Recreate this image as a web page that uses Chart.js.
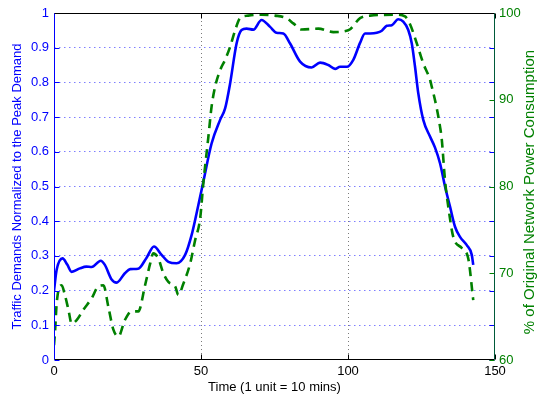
<!DOCTYPE html>
<html><head><meta charset="utf-8">
<script src="https://cdn.jsdelivr.net/npm/chart.js@4/dist/chart.umd.min.js"></script>
<style>html,body{margin:0;padding:0;background:#fff;} #wrap{width:537px;height:398px;}</style>
</head><body><div id="wrap"><canvas id="c" width="537" height="398"></canvas></div>
<script>
// Traffic demand (left axis, normalized)
const demandTime = [0,0.9,2.9,4.5,6,8.8,11,12.8,15.9,17.3,19.6,21.3,24.1,25.9,28.6,31.5,34,36.6,38.9,41.7,44.6,46.8,48.5,50.7,53.6,56.5,58.2,59.9,62.1,63.8,65.5,67.8,70.6,73.5,75.7,78,80.3,83.7,87.6,90.5,93.3,95.6,97.3,99.6,101.8,104.1,105.8,107.5,109.8,111.5,113.2,114.9,117.1,118.8,120.5,121.7,122.8,123.9,125.6,127.9,129.6,131.3,133,134.7,136.4,138.1,140.4,142.1,142.6];
const demand = [0.20,0.26,0.293,0.275,0.254,0.264,0.269,0.268,0.286,0.274,0.232,0.223,0.25,0.262,0.263,0.295,0.327,0.303,0.283,0.279,0.303,0.36,0.423,0.51,0.624,0.692,0.725,0.797,0.912,0.951,0.955,0.952,0.98,0.96,0.943,0.941,0.912,0.86,0.843,0.857,0.85,0.839,0.845,0.845,0.865,0.914,0.941,0.941,0.943,0.949,0.963,0.965,0.982,0.975,0.951,0.912,0.845,0.769,0.692,0.644,0.612,0.567,0.5,0.442,0.384,0.355,0.331,0.303,0.274];
// Power consumption (right axis, %)
const powerTime = [0,0.4,0.9,2.6,3.7,4.9,6,7.7,10,12.8,15.1,16.8,18.5,20.2,21.9,24.1,26.4,28.7,30.9,32.7,33.8,35.5,37.2,38.9,41.2,42.3,44,46.3,48,49.7,50.8,52.5,53.6,54.8,56.5,58.2,59.9,61.6,63.3,66.1,70.6,75.2,79.1,81.4,84.2,89.9,95,100.1,104.1,107.5,116.6,119.4,121.1,123.4,125.6,127.9,128.5,130.2,131.3,131.9,133,134.1,135.8,138.7,140.9,142.6];
const power = [61.7,63.5,66.5,68.6,67.5,65.8,64.2,64.6,65.8,67.1,68.5,68.6,66.1,63.5,62.7,64.6,65.6,65.6,68.5,71.1,72.3,71.7,70,69,68.5,67.5,68.8,71.1,73.8,76.3,80.4,85.7,89.2,91.5,93.4,94.6,96.1,98,99.4,99.7,99.8,99.7,99.4,98.8,98.1,98.2,97.8,98,99.4,99.7,99.8,99.6,98.7,96.5,94.2,92.3,91.5,89,86.9,85.4,80.7,77.7,74.2,72.9,71.7,66.9];
const xTicks = [0,50,100,150];
const leftTicks = [0,0.1,0.2,0.3,0.4,0.5,0.6,0.7,0.8,0.9,1];
const rightTicks = [60,70,80,90,100];

const BLUE = '#0000ff', GREEN = '#008000';
const FONT = {family: '"Liberation Sans", Arial, sans-serif', size: 13};

const framePlugin = {
  id: 'frame',
  afterDatasetsDraw(chart) {
    const {ctx, chartArea: a, scales} = chart;
    const L = a.left + 0.5, R = a.right - 0.5, T = a.top + 0.5, B = a.bottom - 0.5;
    ctx.save();
    ctx.lineWidth = 1;
    ctx.strokeStyle = BLUE;
    ctx.beginPath();
    leftTicks.forEach(v => {
      const y = Math.round(scales.y.getPixelForValue(v)) + 0.5;
      ctx.moveTo(L, y); ctx.lineTo(L + 5, y);
      ctx.moveTo(R, y); ctx.lineTo(R - 5, y);
    });
    ctx.stroke();
    ctx.strokeStyle = GREEN;
    ctx.beginPath();
    rightTicks.forEach(v => {
      const y = Math.round(scales.y2.getPixelForValue(v)) + 0.5;
      ctx.moveTo(R, y); ctx.lineTo(R - 5, y);
    });
    ctx.stroke();
    ctx.strokeStyle = '#000';
    ctx.beginPath();
    xTicks.forEach(v => {
      const x = Math.round(scales.x.getPixelForValue(v)) + 0.5;
      ctx.moveTo(x, B); ctx.lineTo(x, B - 5);
      ctx.moveTo(x, T); ctx.lineTo(x, T + 5);
    });
    ctx.stroke();
    ctx.strokeStyle = '#000';
    ctx.beginPath(); ctx.moveTo(L, T); ctx.lineTo(R, T); ctx.moveTo(L, B); ctx.lineTo(R, B); ctx.stroke();
    ctx.strokeStyle = BLUE;
    ctx.beginPath(); ctx.moveTo(L, T); ctx.lineTo(L, B); ctx.stroke();
    ctx.strokeStyle = '#005a3a';
    ctx.beginPath(); ctx.moveTo(R, T); ctx.lineTo(R, B); ctx.stroke();
    ctx.fillStyle = GREEN;
    ctx.font = '15px "Liberation Sans", Arial, sans-serif';
    ctx.textAlign = 'center';
    ctx.textBaseline = 'middle';
    ctx.translate(530, 192);
    ctx.rotate(-Math.PI / 2);
    ctx.fillText('% of Original Network Power Consumption', 0, 0);
    ctx.restore();
  }
};

new Chart(document.getElementById('c'), {
  type: 'line',
  data: {
    datasets: [
      {
        label: 'Traffic demand',
        data: demandTime.map((t, i) => ({x: t, y: demand[i]})),
        yAxisID: 'y',
        borderColor: BLUE,
        borderWidth: 2.6,
        pointRadius: 0,
        fill: false,
        cubicInterpolationMode: 'monotone',
        order: 2
      },
      {
        label: 'Power',
        data: powerTime.map((t, i) => ({x: t, y: power[i]})),
        yAxisID: 'y2',
        borderColor: GREEN,
        borderWidth: 2.6,
        borderDash: [9, 6],
        borderCapStyle: 'butt',
        pointRadius: 0,
        fill: false,
        cubicInterpolationMode: 'monotone',
        order: 1
      }
    ]
  },
  options: {
    responsive: false,
    animation: false,
    devicePixelRatio: 1,
    layout: {padding: {top: 13, left: 0, right: 0, bottom: 0}},
    plugins: {legend: {display: false}, tooltip: {enabled: false}},
    scales: {
      x: {
        type: 'linear', min: 0, max: 150,
        afterBuildTicks: s => { s.ticks = xTicks.map(v => ({value: v})); },
        afterFit: s => { s.height = 38; },
        ticks: {color: '#000', font: FONT, padding: 4, maxRotation: 0},
        grid: {
          drawTicks: false,
          color: c => (c.tick && (c.tick.value === 50 || c.tick.value === 100)) ? '#7a7a7a' : 'rgba(0,0,0,0)',
          lineWidth: 1
        },
        border: {display: false, dash: [1, 3]},
        title: {display: true, text: 'Time (1 unit = 10 mins)', color: '#000', font: FONT, padding: {top: 0, bottom: 3}}
      },
      y: {
        type: 'linear', position: 'left', min: 0, max: 1,
        afterBuildTicks: s => { s.ticks = leftTicks.map(v => ({value: v})); },
        afterFit: s => { s.width = 54; },
        ticks: {color: BLUE, font: FONT, padding: 5, callback: v => String(Math.round(v * 10) / 10)},
        grid: {
          drawTicks: false,
          color: c => (c.tick && c.tick.value > 0.001 && c.tick.value < 0.999) ? 'rgba(40,40,255,0.6)' : 'rgba(0,0,0,0)',
          lineWidth: 1
        },
        border: {display: false, dash: [1.5, 3.5]},
        title: {display: true, text: 'Traffic Demands Normalized to the Peak Demand', color: BLUE, font: FONT, padding: {top: 10, bottom: 0}}
      },
      y2: {
        type: 'linear', position: 'right', min: 60, max: 100,
        afterBuildTicks: s => { s.ticks = rightTicks.map(v => ({value: v})); },
        afterFit: s => { s.width = 42; },
        ticks: {color: GREEN, font: FONT, padding: 4},
        grid: {display: false, drawTicks: false},
        border: {display: false}
      }
    }
  },
  plugins: [framePlugin]
});
</script>
</body></html>
